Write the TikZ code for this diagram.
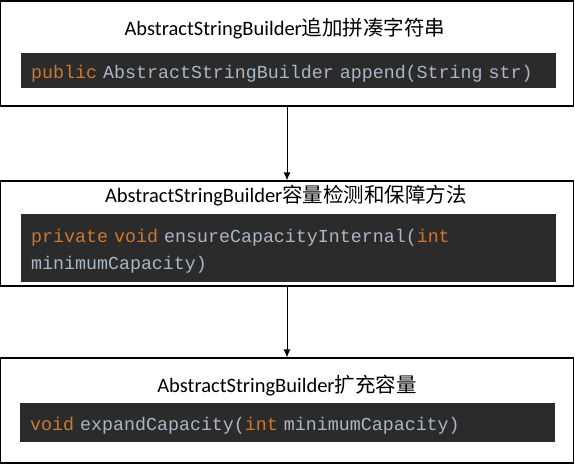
\documentclass[tikz,border=0pt]{standalone}
\usepackage{fontspec}
\usetikzlibrary{arrows.meta}
\newfontfamily\titlefont{Carlito}
\newfontfamily\cjkfont{Noto Sans CJK SC}
\newfontfamily\codefont{Liberation Mono}
\definecolor{codebg}{HTML}{2B2B2B}
\definecolor{kw}{HTML}{CC7832}
\definecolor{idt}{HTML}{A9B7C6}
\newcommand{\kwd}[1]{\textcolor{kw}{#1}}
\newcommand{\zh}[1]{{\cjkfont\fontsize{20.5}{20.5}\selectfont #1}}
\newcommand{\lowstrut}{\rule{0pt}{19pt}}
\tikzset{
  outerbox/.style={draw=black, line width=1.3pt, fill=white, minimum width=573pt, minimum height=105pt, inner sep=0pt},
  codebox/.style={fill=codebg, text=idt, anchor=north west, minimum width=535pt, text width=515pt, inner xsep=10pt, inner ysep=0pt, align=left, font=\codefont\fontsize{18.3}{27}\selectfont},
  titlelbl/.style={font=\titlefont\fontsize{20.5}{22}\selectfont, text=black, inner sep=0pt},
  flow/.style={draw=black, line width=1pt, -{Latex[length=8pt,width=7pt]}}
}
\begin{document}
\begin{tikzpicture}[x=1pt,y=-1pt]
\useasboundingbox (0,0) rectangle (575,464);
\node[outerbox] (b1) at (287,53.5) {};
\node[outerbox] (b2) at (287,233.5) {};
\node[outerbox] (b3) at (287,410.5) {};
\node[titlelbl] (t1) at (285,29) {AbstractStringBuilder\zh{追加拼凑字符串}};
\node[titlelbl] (t2) at (286,196) {AbstractStringBuilder\zh{容量检测和保障方法}};
\node[titlelbl] (t3) at (287,386) {AbstractStringBuilder\zh{扩充容量}};
\node[codebox, minimum height=35pt] (c1) at (21,53) {\lowstrut\kwd{public} AbstractStringBuilder append(String str)};
\node[codebox, minimum height=68pt] (c2) at (21,214) {\lowstrut\kwd{private void} ensureCapacityInternal(\kwd{int}\\minimumCapacity)};
\node[codebox, minimum height=39pt, minimum width=534pt] (c3) at (20,403) {\lowstrut\kwd{void} expandCapacity(\kwd{int} minimumCapacity)};
\draw[flow] (b1.south) -- (b2.north);
\draw[flow] (b2.south) -- (b3.north);
\end{tikzpicture}
\end{document}
